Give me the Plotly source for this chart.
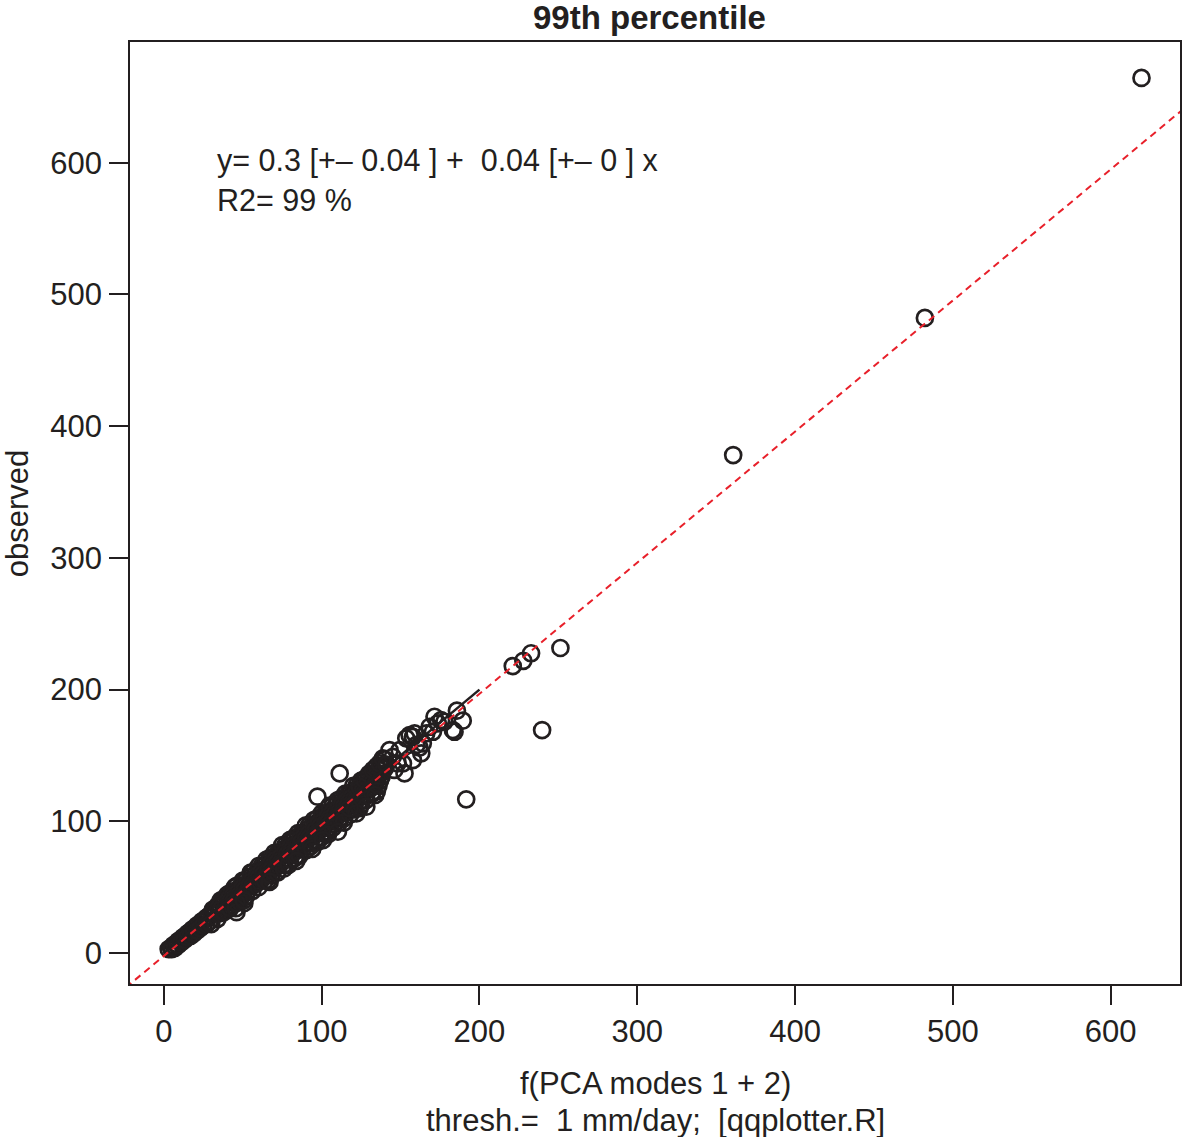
import plotly.graph_objects as go

# model estimate f(PCA modes 1 + 2) vs observed 99th percentile
# low end of the cloud
low_x = [3, 4.5, 6, 7.5, 9, 10.5, 12, 13.5, 15, 16.5, 18, 19.5, 21, 22.5, 24, 25.5, 27, 28.5, 30,
         5, 7, 9, 11, 13, 15, 17, 19, 21, 23, 25, 27, 29]
low_y = [3, 4, 6, 7, 9, 10, 12, 13, 15, 16, 18, 19, 21, 22, 24, 25, 27, 28, 30,
         3, 4, 6, 8, 10, 12, 13, 15, 17, 19, 21, 22, 24]

# dense band, upper edge
band_u_x = [31, 34, 37, 40, 43, 46, 49, 52, 55, 58, 61, 64, 67, 70, 73, 76, 79, 82, 85, 88, 91,
            94, 97, 100, 103, 106, 109, 112, 115, 118, 121, 124, 127, 130, 133, 136, 139,
            62, 67, 72, 77, 82, 87, 92, 97, 102, 107, 112, 117, 122, 127, 132, 137,
            36, 41, 46, 51, 56,
            40, 45, 50, 55, 60, 65, 70, 75, 80, 85, 90, 95, 100, 105, 110, 115, 120, 125,
            130, 135, 140]
band_u_y = [33, 36, 39, 42, 46, 48, 51, 55, 58, 60, 63, 67, 70, 72, 76, 79, 81, 85, 88, 90, 94,
            97, 99, 103, 106, 108, 112, 115, 117, 121, 124, 126, 130, 133, 135, 139, 142,
            66, 72, 76, 82, 87, 91, 97, 102, 106, 112, 117, 121, 127, 132, 136, 142,
            40, 45, 51, 55, 61,
            44, 50, 55, 61, 66, 71, 76, 82, 86, 91, 97, 101, 106, 112, 116, 121, 127, 131,
            136, 142, 147]
# dense band, centre
band_m_x = [32, 35, 38, 41, 44, 47, 50, 53, 56, 59, 62, 65, 68, 71, 74, 77, 80, 83, 86, 89, 92,
            95, 98, 101, 104, 107, 110, 113, 116, 119, 122, 125, 128, 131, 134, 137, 140,
            33, 36, 39, 42, 45, 48, 51, 54, 57, 60, 63, 66, 69, 72, 75, 78, 81, 84, 87, 90,
            93, 96, 99, 102, 105, 108, 111, 114, 117, 120, 123, 126, 129, 132, 135, 138]
band_m_y = [32, 35, 37, 41, 44, 46, 50, 53, 55, 59, 62, 64, 68, 71, 73, 77, 80, 82, 86, 89, 91,
            95, 98, 100, 104, 107, 109, 113, 116, 118, 122, 125, 127, 131, 134, 136, 140,
            30, 33, 35, 39, 42, 44, 48, 51, 53, 57, 60, 62, 66, 69, 71, 75, 78, 80, 84, 87,
            89, 93, 96, 98, 102, 105, 107, 111, 114, 116, 120, 123, 125, 129, 132, 134]
# dense band, lower edge
band_l_x = [35, 38, 41, 44, 47, 50, 53, 56, 59, 62, 65, 68, 71, 74, 77, 80, 83, 86, 89, 92, 95,
            98, 101, 104, 107, 110, 113, 116, 119, 122, 125, 128, 131, 134, 137,
            48, 52, 56, 60, 64, 68, 72, 76, 80, 84, 88, 92, 96, 100, 104, 108, 112, 116, 120,
            124, 128, 132, 136,
            76, 83, 90, 97, 104, 111, 118, 125, 132,
            66, 72, 79, 86, 93, 100, 107, 114, 121, 128, 135,
            30, 34, 38, 42, 46, 84, 94, 104, 114, 124, 134]
band_l_y = [30, 32, 35, 39, 41, 44, 47, 51, 53, 56, 59, 63, 65, 68, 71, 75, 77, 80, 83, 87, 89,
            92, 95, 99, 101, 104, 107, 111, 113, 116, 119, 123, 125, 128, 131,
            39, 43, 47, 50, 55, 59, 62, 67, 71, 74, 79, 83, 86, 91, 95, 98, 103, 107, 110,
            115, 119, 122, 127,
            64, 72, 78, 84, 92, 99, 105, 113, 121,
            55, 61, 67, 74, 81, 88, 95, 102, 109, 116, 123,
            22, 26, 31, 34, 38, 70, 79, 90, 99, 110, 120]

# scattered circles off the band and along its upper end
sparse_x = [46, 51, 67, 45.6, 50.6, 128.3, 122, 110.3, 100.8, 117.7,
            127.2, 124, 132.5, 136.7, 138.8, 143, 145.1, 149.4, 151.5, 152.5, 157.8, 153.6,
            155.7, 158.9, 163.1, 164.1, 166.3, 168.4, 173.6, 177.8, 183.1, 189.4, 185.7,
            184.2, 175.7, 171.5, 170.5, 157.8, 141, 146, 148, 160, 162,
            111.4, 97.3, 191.6, 239.7, 221.1, 227.8, 232.7, 251.3, 360.8, 482.3, 619.6]
sparse_y = [31, 38, 54, 34, 40, 111.1, 106, 92.1, 85.8, 110,
            131.4, 126.3, 139, 144, 147.8, 154.1, 149, 154.1, 144, 136.4, 146.5, 163,
            165.5, 166.8, 151.6, 159.2, 166.8, 171.8, 174.4, 175.6, 169.3, 176.4, 184,
            168, 176.9, 179.4, 168, 164.2, 143, 139, 144, 158, 156,
            136.4, 118.7, 116.7, 169.3, 217.9, 221.9, 227.6, 231.6, 378.1, 482.2, 664.4]

# 1:1 reference segment and the fitted regression line
diag_x = [0, 200]
diag_y = [0, 200]
fit_x = [-30, 660]
fit_y = [-32, 654.6]

ticks = [0, 100, 200, 300, 400, 500, 600]

model_vals = low_x + band_u_x + band_m_x + band_l_x + sparse_x
obs_vals = low_y + band_u_y + band_m_y + band_l_y + sparse_y

FONT = "Liberation Sans Narrow, Liberation Sans, Arial, sans-serif"
INK = "#231f20"

fig = go.Figure()

fig.add_trace(go.Scatter(
    x=model_vals, y=obs_vals, mode="markers",
    marker=dict(symbol="circle-open", size=16, color=INK, line=dict(width=2.7, color=INK)),
    showlegend=False, hoverinfo="skip",
))
fig.add_trace(go.Scatter(
    x=diag_x, y=diag_y, mode="lines",
    line=dict(color=INK, width=2.5), showlegend=False, hoverinfo="skip",
))
fig.add_trace(go.Scatter(
    x=fit_x, y=fit_y, mode="lines",
    line=dict(color="#e8202a", width=2, dash="7px,5px"), showlegend=False, hoverinfo="skip",
))

axis_common = dict(
    showgrid=False, zeroline=False,
    showline=True, mirror=True, linecolor=INK, linewidth=1.8,
    ticks="outside", ticklen=19, tickwidth=1.8, tickcolor=INK,
    tickvals=ticks, ticktext=[str(t) for t in ticks],
    tickfont=dict(family=FONT, size=31, color=INK),
)

fig.update_layout(
    width=1184, height=1137,
    margin=dict(l=130, r=2, t=42, b=153),
    paper_bgcolor="white", plot_bgcolor="white",
    xaxis=dict(range=[-21.5, 644], ticklabelstandoff=0, **axis_common),
    yaxis=dict(range=[-23.5, 691.7], ticklabelstandoff=1, **axis_common),
    font=dict(family=FONT, color=INK),
    annotations=[
        dict(text="<b>99th percentile</b>", xref="paper", yref="paper", x=0.4943, y=1.0265,
             xanchor="center", yanchor="middle", showarrow=False,
             font=dict(family="Liberation Sans, Arial, sans-serif", size=33, color=INK)),
        dict(text="observed", xref="paper", yref="paper", x=-0.1074, y=0.5, textangle=-90,
             xanchor="center", yanchor="middle", showarrow=False,
             font=dict(family=FONT, size=31, color=INK)),
        dict(text="f(PCA modes 1 + 2)", xref="paper", yref="paper", x=0.5, y=-0.1051,
             xanchor="center", yanchor="middle", showarrow=False,
             font=dict(family=FONT, size=31, color=INK)),
        dict(text="thresh.=\u00a0\u00a01 mm/day;\u00a0\u00a0[qqplotter.R]", xref="paper", yref="paper",
             x=0.5, y=-0.1444, xanchor="center", yanchor="middle", showarrow=False,
             font=dict(family=FONT, size=31, color=INK)),
        dict(text="y= 0.3 [+\u2013 0.04 ] +\u00a0\u00a00.04 [+\u2013 0 ] x", xref="paper", yref="paper",
             x=0.0808, y=0.8747, xanchor="left", yanchor="middle", showarrow=False,
             font=dict(family=FONT, size=30.5, color=INK)),
        dict(text="R2= 99 %", xref="paper", yref="paper", x=0.0808, y=0.8323,
             xanchor="left", yanchor="middle", showarrow=False,
             font=dict(family=FONT, size=30.5, color=INK)),
    ],
)

# the page's default body margin would push the figure off its intended position
fig.write_html("out.html", config={"displayModeBar": False},
               post_script="document.body.style.margin='0px';")
